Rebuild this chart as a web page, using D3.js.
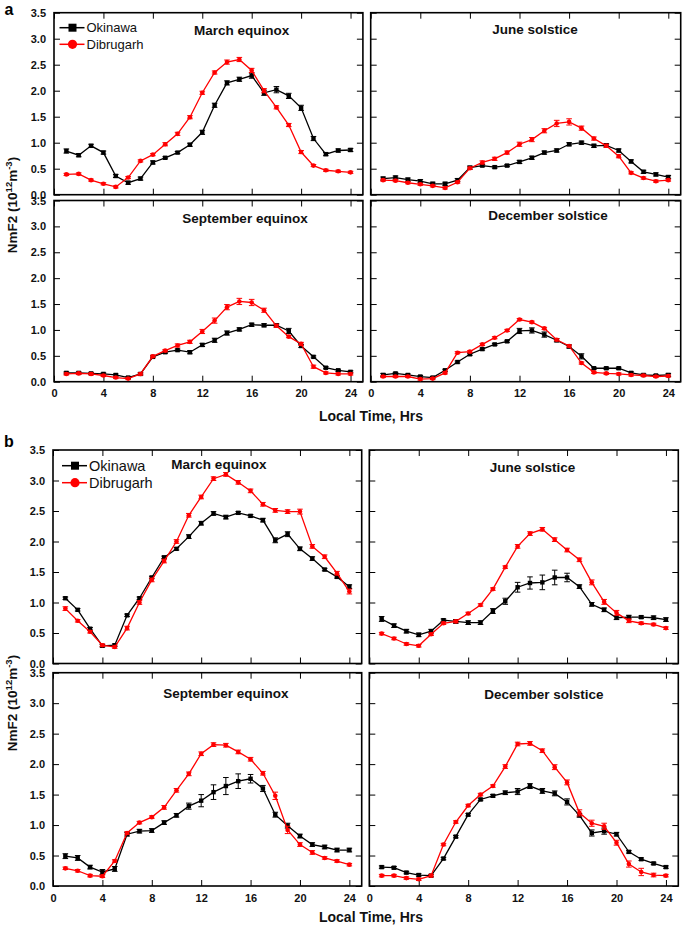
<!DOCTYPE html>
<html><head><meta charset="utf-8">
<script src="https://cdn.jsdelivr.net/npm/d3@7"></script>
<style>
body{margin:0;background:#fff}
svg{display:block}
text{font-family:"Liberation Sans",Arial,Helvetica,sans-serif}
</style>
</head><body>
<svg id="chart" width="685" height="928"></svg>
<script>
// ---------- data ----------
const hours = [1,2,3,4,5,6,7,8,9,10,11,12,13,14,15,16,17,18,19,20,21,22,23,24];
const xTickValues = [0,4,8,12,16,20,24];
const yTickValues = [0,0.5,1,1.5,2,2.5,3,3.5];
const seriesNames = ["Okinawa","Dibrugarh"];
const panelTitles = ["March equinox","June solstice","September equinox","December solstice"];
const partLabels = ["a","b"];
const xAxisTitle = "Local Time, Hrs";

// part a
const aMarOki = [0.84,0.76,0.94,0.81,0.36,0.23,0.31,0.62,0.71,0.81,0.96,1.20,1.72,2.15,2.22,2.29,1.96,2.02,1.90,1.67,1.08,0.78,0.85,0.86];
const aMarOkiErr = [0.04,0.03,0.03,0.03,0.03,0.03,0.03,0.03,0.02,0.02,0.03,0.04,0.04,0.04,0.04,0.05,0.05,0.06,0.05,0.05,0.04,0.03,0.03,0.03];
const aMarDib = [0.39,0.40,0.28,0.21,0.15,0.33,0.65,0.77,0.97,1.17,1.49,1.96,2.35,2.55,2.60,2.39,2.00,1.68,1.34,0.82,0.56,0.47,0.45,0.43];
const aMarDibErr = [0.02,0.02,0.02,0.02,0.02,0.02,0.02,0.02,0.03,0.03,0.03,0.03,0.03,0.04,0.04,0.04,0.04,0.03,0.03,0.03,0.02,0.02,0.02,0.02];

const aJunOki = [0.31,0.33,0.29,0.26,0.21,0.21,0.28,0.52,0.56,0.53,0.56,0.63,0.71,0.81,0.85,0.97,1.00,0.94,0.95,0.85,0.64,0.44,0.39,0.34];
const aJunOkiErr = [0.03,0.03,0.03,0.03,0.03,0.03,0.03,0.03,0.02,0.02,0.02,0.03,0.03,0.03,0.03,0.03,0.03,0.03,0.03,0.03,0.03,0.03,0.03,0.03];
const aJunDib = [0.28,0.27,0.23,0.20,0.17,0.13,0.24,0.51,0.62,0.69,0.81,0.97,1.06,1.23,1.37,1.40,1.28,1.08,0.94,0.74,0.42,0.32,0.26,0.28];
const aJunDibErr = [0.02,0.02,0.02,0.02,0.02,0.02,0.02,0.02,0.03,0.03,0.03,0.04,0.04,0.04,0.06,0.06,0.04,0.03,0.03,0.03,0.02,0.02,0.02,0.02];

const aSepOki = [0.17,0.17,0.16,0.15,0.13,0.08,0.15,0.48,0.57,0.61,0.57,0.71,0.80,0.94,1.01,1.10,1.09,1.09,0.98,0.69,0.48,0.27,0.22,0.19];
const aSepOkiErr = [0.02,0.02,0.02,0.02,0.02,0.02,0.02,0.02,0.02,0.02,0.03,0.03,0.04,0.04,0.03,0.03,0.03,0.03,0.05,0.03,0.02,0.02,0.02,0.02];
const aSepDib = [0.15,0.16,0.15,0.12,0.08,0.06,0.15,0.49,0.60,0.70,0.77,0.97,1.18,1.44,1.55,1.53,1.38,1.08,0.87,0.73,0.29,0.17,0.15,0.15];
const aSepDibErr = [0.02,0.02,0.02,0.02,0.02,0.02,0.02,0.02,0.02,0.03,0.03,0.04,0.05,0.05,0.06,0.06,0.04,0.03,0.02,0.03,0.03,0.02,0.02,0.02];

const aDecOki = [0.13,0.16,0.13,0.10,0.08,0.22,0.38,0.53,0.63,0.72,0.78,0.98,0.99,0.91,0.80,0.68,0.49,0.26,0.26,0.26,0.17,0.13,0.12,0.13];
const aDecOkiErr = [0.03,0.02,0.02,0.02,0.02,0.02,0.02,0.02,0.02,0.02,0.02,0.05,0.05,0.05,0.03,0.03,0.05,0.02,0.02,0.02,0.02,0.02,0.02,0.03];
const aDecDib = [0.10,0.10,0.10,0.05,0.06,0.17,0.56,0.58,0.72,0.85,0.99,1.20,1.15,1.03,0.81,0.69,0.36,0.18,0.16,0.15,0.13,0.12,0.10,0.11];
const aDecDibErr = [0.02,0.02,0.02,0.02,0.02,0.02,0.02,0.02,0.02,0.02,0.02,0.02,0.02,0.02,0.02,0.02,0.02,0.02,0.02,0.02,0.02,0.02,0.02,0.02];

// part b
const bMarOki = [1.07,0.88,0.57,0.29,0.30,0.79,1.07,1.41,1.74,1.88,2.08,2.30,2.46,2.40,2.47,2.42,2.35,2.02,2.12,1.88,1.72,1.54,1.42,1.26];
const bMarOkiErr = [0.02,0.02,0.02,0.02,0.02,0.02,0.02,0.02,0.02,0.02,0.03,0.03,0.03,0.03,0.02,0.02,0.03,0.04,0.04,0.03,0.03,0.02,0.02,0.03];
const bMarDib = [0.90,0.70,0.52,0.30,0.27,0.58,1.00,1.37,1.68,2.00,2.43,2.73,3.03,3.10,2.97,2.83,2.61,2.51,2.49,2.49,1.92,1.75,1.48,1.18];
const bMarDibErr = [0.03,0.02,0.02,0.02,0.02,0.03,0.03,0.03,0.03,0.03,0.03,0.03,0.03,0.03,0.03,0.03,0.03,0.03,0.03,0.04,0.03,0.03,0.03,0.04];

const bJunOki = [0.73,0.62,0.53,0.47,0.53,0.71,0.69,0.67,0.67,0.86,1.02,1.25,1.32,1.33,1.41,1.41,1.26,0.97,0.88,0.75,0.76,0.76,0.75,0.72];
const bJunOkiErr = [0.04,0.03,0.03,0.03,0.03,0.02,0.03,0.03,0.03,0.04,0.05,0.08,0.10,0.12,0.12,0.07,0.03,0.03,0.03,0.03,0.03,0.02,0.03,0.03];
const bJunDib = [0.49,0.41,0.32,0.29,0.48,0.66,0.69,0.82,0.96,1.22,1.58,1.92,2.13,2.20,2.03,1.86,1.70,1.33,1.01,0.83,0.70,0.66,0.64,0.58];
const bJunDibErr = [0.02,0.02,0.02,0.02,0.02,0.02,0.02,0.02,0.02,0.02,0.02,0.03,0.03,0.03,0.03,0.03,0.03,0.04,0.04,0.04,0.03,0.02,0.02,0.02];

const bSepOki = [0.49,0.46,0.31,0.23,0.28,0.85,0.90,0.91,1.04,1.16,1.31,1.40,1.54,1.64,1.72,1.76,1.60,1.17,0.99,0.82,0.68,0.64,0.59,0.59];
const bSepOkiErr = [0.04,0.04,0.03,0.04,0.04,0.03,0.03,0.03,0.03,0.03,0.05,0.10,0.12,0.14,0.12,0.07,0.05,0.04,0.04,0.03,0.03,0.03,0.03,0.03];
const bSepDib = [0.29,0.25,0.17,0.16,0.41,0.87,1.04,1.13,1.29,1.57,1.84,2.17,2.32,2.31,2.20,2.08,1.85,1.48,0.92,0.68,0.55,0.46,0.41,0.35];
const bSepDibErr = [0.02,0.02,0.02,0.02,0.02,0.02,0.02,0.02,0.03,0.03,0.03,0.03,0.03,0.03,0.03,0.03,0.03,0.06,0.06,0.03,0.03,0.02,0.02,0.02];

const bDecOki = [0.31,0.30,0.22,0.18,0.17,0.45,0.81,1.17,1.42,1.48,1.53,1.55,1.64,1.56,1.52,1.38,1.16,0.87,0.90,0.85,0.56,0.44,0.37,0.31];
const bDecOkiErr = [0.02,0.02,0.02,0.02,0.02,0.02,0.02,0.02,0.02,0.02,0.03,0.05,0.04,0.04,0.04,0.05,0.03,0.05,0.05,0.03,0.02,0.02,0.02,0.02];
const bDecDib = [0.17,0.17,0.13,0.11,0.17,0.68,1.05,1.32,1.50,1.64,1.96,2.33,2.34,2.22,1.95,1.70,1.20,1.03,0.98,0.71,0.36,0.23,0.18,0.17];
const bDecDibErr = [0.02,0.02,0.02,0.02,0.02,0.02,0.02,0.02,0.02,0.02,0.03,0.03,0.03,0.03,0.04,0.04,0.05,0.05,0.05,0.04,0.05,0.06,0.03,0.02];

// ---------- layout ----------
const colors = ["#000000","#ff0000"];
const layout = {
  a: {
    cols: [[54,362.9],[370.7,680.7]],
    rows: [[194.7,12.7],[381.7,200.5]],
    titles: [[241.7,30],[535,29],[245,218.3],[548,215.7]],
    legend: {x:72.5, y:[27.7,44.3], size:13},
    label: {x:9, y:15},
    xTitleY: 421,
    yTitleY: 205
  },
  b: {
    cols: [[53,361.7],[369.3,678.3]],
    rows: [[663.5,450],[886,672.7]],
    titles: [[219,464],[532.5,467.7],[225.8,693.3],[543.8,694]],
    legend: {x:75, y:[465.7,482.7], size:14.5},
    label: {x:9, y:447},
    xTitleY: 922,
    yTitleY: 703
  }
};

const parts = {
  a: [[aMarOki,aMarOkiErr,aMarDib,aMarDibErr],[aJunOki,aJunOkiErr,aJunDib,aJunDibErr],
      [aSepOki,aSepOkiErr,aSepDib,aSepDibErr],[aDecOki,aDecOkiErr,aDecDib,aDecDibErr]],
  b: [[bMarOki,bMarOkiErr,bMarDib,bMarDibErr],[bJunOki,bJunOkiErr,bJunDib,bJunDibErr],
      [bSepOki,bSepOkiErr,bSepDib,bSepDibErr],[bDecOki,bDecOkiErr,bDecDib,bDecDibErr]]
};

const svg = d3.select("#chart");
const fmt = d3.format(".1f");

function styleAxis(g){
  g.select(".domain").remove();
  g.selectAll(".tick line").attr("stroke","#000").attr("stroke-width",1);
  g.selectAll(".tick text").attr("fill","#111").style("font-size","11px").style("font-weight","bold")
    .style("font-family",'"Liberation Sans",Arial,sans-serif');
}

["a","b"].forEach((p,pi) => {
  const L = layout[p];
  parts[p].forEach((d,i) => {
    const col = i % 2, row = Math.floor(i/2);
    const x = d3.scaleLinear().domain([0,25]).range(L.cols[col]);
    const y = d3.scaleLinear().domain([0,3.5]).range(L.rows[row]);
    const g = svg.append("g");
    const [x0,x1] = L.cols[col], [yb,yt] = L.rows[row];

    // axes with inward ticks
    const bottom = g.append("g").attr("transform",`translate(0,${yb})`)
      .call(d3.axisBottom(x).tickValues(xTickValues).tickSizeInner(-6).tickSizeOuter(0).tickPadding(8)
        .tickFormat(row===1 ? d3.format("d") : ""));
    styleAxis(bottom);
    const top = g.append("g").attr("transform",`translate(0,${yt})`)
      .call(d3.axisTop(x).tickValues(xTickValues).tickSizeInner(-6).tickSizeOuter(0).tickFormat(""));
    styleAxis(top);
    const left = g.append("g").attr("transform",`translate(${x0},0)`)
      .call(d3.axisLeft(y).tickValues(yTickValues).tickSizeInner(-6).tickSizeOuter(0).tickPadding(8)
        .tickFormat(col===0 ? fmt : ""));
    styleAxis(left);
    const right = g.append("g").attr("transform",`translate(${x1},0)`)
      .call(d3.axisRight(y).tickValues(yTickValues).tickSizeInner(-6).tickSizeOuter(0).tickFormat(""));
    styleAxis(right);

    // frame
    g.append("rect").attr("x",x0).attr("y",yt).attr("width",x1-x0).attr("height",yb-yt)
      .attr("fill","none").attr("stroke","#000").attr("stroke-width",1.6);

    // series
    [[d[0],d[1]],[d[2],d[3]]].forEach(([vals,errs],s) => {
      const c = colors[s];
      const pts = hours.map((h,k) => ({h, v:vals[k], e:errs[k]}));
      g.append("path").datum(pts)
        .attr("d", d3.line().x(q=>x(q.h)).y(q=>y(q.v)))
        .attr("fill","none").attr("stroke",c).attr("stroke-width",1.3);
      const eb = g.append("g").attr("stroke",c).attr("stroke-width",1);
      eb.selectAll("path").data(pts).join("path")
        .attr("d", q => {
          const xc = x(q.h), ya = y(q.v+q.e), yb2 = y(q.v-q.e);
          return `M${xc},${ya}V${yb2}M${xc-2.8},${ya}H${xc+2.8}M${xc-2.8},${yb2}H${xc+2.8}`;
        });
      if (s===0) {
        g.selectAll(null).data(pts).join("rect")
          .attr("x",q=>x(q.h)-2.2).attr("y",q=>y(q.v)-2.2).attr("width",4.4).attr("height",4.4)
          .attr("fill",c);
      } else {
        g.selectAll(null).data(pts).join("circle")
          .attr("cx",q=>x(q.h)).attr("cy",q=>y(q.v)).attr("r",2.3).attr("fill",c);
      }
    });

    // panel title
    g.append("text").attr("x",L.titles[i][0]).attr("y",L.titles[i][1])
      .attr("text-anchor","middle").attr("dominant-baseline","central")
      .style("font-size","13.5px").style("font-weight","bold").attr("fill","#111")
      .text(panelTitles[i]);
  });

  // legend
  const lg = svg.append("g");
  seriesNames.forEach((name,s) => {
    const ly = L.legend.y[s], lx = L.legend.x;
    lg.append("line").attr("x1",lx-13).attr("x2",lx+12).attr("y1",ly).attr("y2",ly)
      .attr("stroke",colors[s]).attr("stroke-width",1.5);
    if (s===0) lg.append("rect").attr("x",lx-4).attr("y",ly-4).attr("width",8).attr("height",8).attr("fill",colors[s]);
    else lg.append("circle").attr("cx",lx).attr("cy",ly).attr("r",4.6).attr("fill",colors[s]);
    lg.append("text").attr("x",lx+14).attr("y",ly).attr("dominant-baseline","central")
      .style("font-size",L.legend.size+"px").attr("fill","#111").text(name);
  });

  // part label
  svg.append("text").attr("x",L.label.x).attr("y",L.label.y).attr("text-anchor","middle")
    .style("font-size","16px").style("font-weight","bold").text(partLabels[pi]);

  // x axis title
  svg.append("text").attr("x",371).attr("y",L.xTitleY).attr("text-anchor","middle")
    .style("font-size","14px").style("font-weight","bold").attr("fill","#111").text(xAxisTitle);

  // y axis title
  const yt = svg.append("text").attr("transform",`translate(17,${L.yTitleY}) rotate(-90)`)
    .attr("text-anchor","middle").style("font-size","13.5px").style("font-weight","bold").attr("fill","#111");
  yt.append("tspan").text("NmF2 (10");
  yt.append("tspan").attr("dy",-5).style("font-size","9.5px").text("12");
  yt.append("tspan").attr("dy",5).text("m");
  yt.append("tspan").attr("dy",-5).style("font-size","9.5px").text("-3");
  yt.append("tspan").attr("dy",5).text(")");
});
</script>
</body></html>
